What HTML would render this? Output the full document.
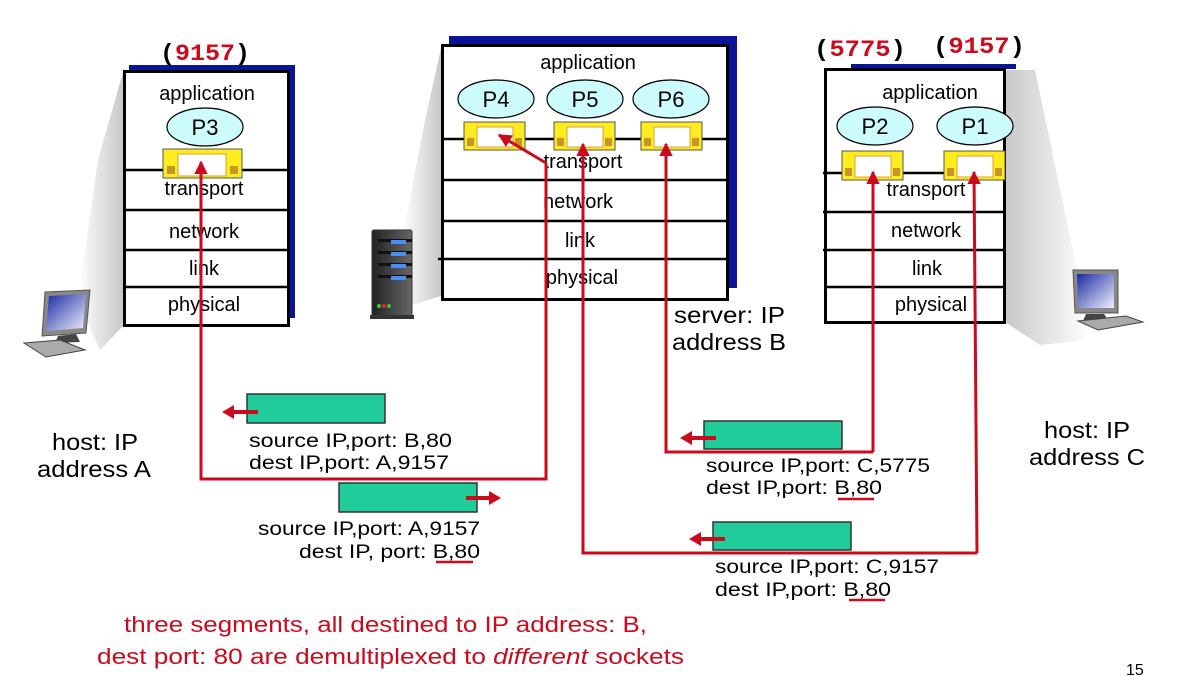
<!DOCTYPE html>
<html><head><meta charset="utf-8"><style>
html,body{margin:0;padding:0;background:#fff;}
svg{display:block;}
text{font-family:"Liberation Sans",sans-serif;}
text.mono{font-family:"Liberation Mono",monospace;}
</style></head><body>
<svg width="1184" height="676" viewBox="0 0 1184 676" xmlns="http://www.w3.org/2000/svg">
<defs>
<linearGradient id="g1" x1="0" x2="1" y1="0" y2="0"><stop offset="0" stop-color="#fff"/><stop offset="1" stop-color="#c8c8c8"/></linearGradient>
<linearGradient id="g2" x1="0" x2="1" y1="0" y2="0"><stop offset="0" stop-color="#c8c8c8"/><stop offset="1" stop-color="#fff"/></linearGradient>
<linearGradient id="scr" x1="0" x2="1" y1="0" y2="1"><stop offset="0" stop-color="#1a2aa0"/><stop offset="1" stop-color="#f0f0ff"/></linearGradient>
<linearGradient id="srv" x1="0" x2="1"><stop offset="0" stop-color="#222"/><stop offset="1" stop-color="#666"/></linearGradient>
<marker id="ah" viewBox="0 0 10 10" refX="9" refY="5" markerWidth="4.5" markerHeight="4.5" orient="auto"><path d="M0,0L10,5L0,10z" fill="#cc0a1e"/></marker>
</defs>
<polygon points="123,72 123,326 100,350 78,300 98,160" fill="url(#g1)"/>
<polygon points="441,48 441,296 412,305 402,240 425,120" fill="url(#g1)"/>
<polygon points="1005,70 1035,70 1075,260 1090,340 1040,345 1005,322" fill="url(#g2)"/>

<text class="mono" x="160" y="60" font-weight="bold" font-size="23" textLength="90" lengthAdjust="spacingAndGlyphs"><tspan fill="#000">(</tspan><tspan fill="#cc0a1e">9157</tspan><tspan fill="#000">)</tspan></text>
<rect x="129" y="65" width="166" height="253" fill="#0a1496"/>
<rect x="124.5" y="71.5" width="164" height="254" fill="#fff" stroke="#000" stroke-width="3"/>
<g stroke="#000" stroke-width="2.5"><line x1="124" y1="170" x2="288" y2="170"/><line x1="124" y1="210" x2="288" y2="210"/><line x1="124" y1="250" x2="288" y2="250"/><line x1="124" y1="287" x2="288" y2="287"/></g>
<g font-size="20" text-anchor="middle"><text x="207" y="100">application</text><text x="204" y="195">transport</text><text x="204" y="238">network</text><text x="204" y="275">link</text><text x="204" y="311">physical</text></g>
<ellipse cx="205" cy="127" rx="38" ry="19" fill="#ccfcfc" stroke="#000" stroke-width="1.2"/><text x="205" y="135" font-size="22" text-anchor="middle">P3</text>

<rect x="449" y="36" width="288" height="252" fill="#0a1496"/>
<rect x="442.5" y="45.5" width="285" height="254" fill="#fff" stroke="#000" stroke-width="3"/>
<g stroke="#000" stroke-width="2.5"><line x1="442" y1="139" x2="727" y2="139"/><line x1="442" y1="180" x2="727" y2="180"/><line x1="442" y1="221" x2="727" y2="221"/><line x1="438" y1="259" x2="727" y2="259"/></g>
<g font-size="20" text-anchor="middle"><text x="588" y="69">application</text><text x="583" y="168">transport</text><text x="578" y="208">network</text><text x="580" y="247">link</text><text x="582" y="284">physical</text></g>
<ellipse cx="496" cy="99" rx="38" ry="19" fill="#ccfcfc" stroke="#000" stroke-width="1.2"/><text x="496" y="107" font-size="22" text-anchor="middle">P4</text>
<ellipse cx="585" cy="99" rx="38" ry="19" fill="#ccfcfc" stroke="#000" stroke-width="1.2"/><text x="585" y="107" font-size="22" text-anchor="middle">P5</text>
<ellipse cx="671" cy="99" rx="38" ry="19" fill="#ccfcfc" stroke="#000" stroke-width="1.2"/><text x="671" y="107" font-size="22" text-anchor="middle">P6</text>

<text class="mono" x="814" y="56" font-weight="bold" font-size="23" textLength="92" lengthAdjust="spacingAndGlyphs"><tspan fill="#000">(</tspan><tspan fill="#cc0a1e">5775</tspan><tspan fill="#000">)</tspan></text>
<text class="mono" x="933" y="53" font-weight="bold" font-size="23" textLength="92" lengthAdjust="spacingAndGlyphs"><tspan fill="#000">(</tspan><tspan fill="#cc0a1e">9157</tspan><tspan fill="#000">)</tspan></text>
<rect x="851" y="64" width="165" height="5" fill="#0a1496"/>
<rect x="825.5" y="69.5" width="179" height="253" fill="#fff" stroke="#000" stroke-width="3"/>
<g stroke="#000" stroke-width="2.5"><line x1="823" y1="173" x2="1004" y2="173"/><line x1="823" y1="212" x2="1004" y2="212"/><line x1="823" y1="250" x2="1004" y2="250"/><line x1="825" y1="287" x2="1004" y2="287"/></g>
<g font-size="20" text-anchor="middle"><text x="930" y="99">application</text><text x="926" y="196">transport</text><text x="926" y="237">network</text><text x="927" y="275">link</text><text x="931" y="311">physical</text></g>
<ellipse cx="875" cy="126" rx="38" ry="19" fill="#ccfcfc" stroke="#000" stroke-width="1.2"/><text x="875" y="134" font-size="22" text-anchor="middle">P2</text>
<ellipse cx="975" cy="126" rx="38" ry="19" fill="#ccfcfc" stroke="#000" stroke-width="1.2"/><text x="975" y="134" font-size="22" text-anchor="middle">P1</text>

<g>
<g transform="translate(163,149)"><rect width="79" height="29" fill="#ffec1e" stroke="#555"/><rect x="15" y="5" width="48" height="22" fill="#fff" stroke="#d8a040"/><rect x="4" y="17" width="8" height="8" fill="#c89628"/><rect x="67" y="17" width="8" height="8" fill="#c89628"/></g>
<g transform="translate(464,122)"><rect width="61" height="28" fill="#ffec1e" stroke="#555"/><rect x="13" y="5" width="36" height="20" fill="#fff" stroke="#d8a040"/><rect x="3" y="16" width="7" height="8" fill="#c89628"/><rect x="51" y="16" width="7" height="8" fill="#c89628"/></g>
<g transform="translate(554,122)"><rect width="61" height="28" fill="#ffec1e" stroke="#555"/><rect x="13" y="5" width="36" height="20" fill="#fff" stroke="#d8a040"/><rect x="3" y="16" width="7" height="8" fill="#c89628"/><rect x="51" y="16" width="7" height="8" fill="#c89628"/></g>
<g transform="translate(641,122)"><rect width="61" height="28" fill="#ffec1e" stroke="#555"/><rect x="13" y="5" width="36" height="20" fill="#fff" stroke="#d8a040"/><rect x="3" y="16" width="7" height="8" fill="#c89628"/><rect x="51" y="16" width="7" height="8" fill="#c89628"/></g>
<g transform="translate(842,151)"><rect width="61" height="29" fill="#ffec1e" stroke="#555"/><rect x="13" y="5" width="36" height="21" fill="#fff" stroke="#d8a040"/><rect x="3" y="17" width="7" height="8" fill="#c89628"/><rect x="51" y="17" width="7" height="8" fill="#c89628"/></g>
<g transform="translate(944,151)"><rect width="61" height="29" fill="#ffec1e" stroke="#555"/><rect x="13" y="5" width="36" height="21" fill="#fff" stroke="#d8a040"/><rect x="3" y="17" width="7" height="8" fill="#c89628"/><rect x="51" y="17" width="7" height="8" fill="#c89628"/></g>
</g>

<g fill="none" stroke="#cc0a1e" stroke-width="3">
<polyline points="546,163 546,479 201,479 201,162" marker-end="url(#ah)"/>
<line x1="546" y1="163" x2="499" y2="135" marker-end="url(#ah)"/>
<polyline points="873,452 666,452 666,144" marker-end="url(#ah)"/>
<line x1="873" y1="452" x2="873" y2="172" marker-end="url(#ah)"/>
<polyline points="977,553 583,553 583,144" marker-end="url(#ah)"/>
<line x1="977" y1="553" x2="974" y2="172" marker-end="url(#ah)"/>
</g>

<g fill="#20cc9a" stroke="#333" stroke-width="1.5">
<rect x="247" y="394" width="138" height="29"/><rect x="339" y="483" width="138" height="29"/>
<rect x="704" y="421" width="138" height="28"/><rect x="713" y="522" width="138" height="28"/>
</g>
<g stroke="#cc0a1e" stroke-width="4" fill="none">
<line x1="258" y1="412" x2="232" y2="412"/><line x1="466" y1="498" x2="490" y2="498"/>
<line x1="716" y1="438" x2="690" y2="438"/><line x1="725" y1="539" x2="699" y2="539"/>
</g>
<g fill="#cc0a1e">
<polygon points="222,412 234,405 234,419"/><polygon points="501,498 489,491 489,505"/>
<polygon points="680,438 692,431 692,445"/><polygon points="689,539 701,532 701,546"/>
</g>
<g font-size="19">
<text x="249" y="447" textLength="203" lengthAdjust="spacingAndGlyphs">source IP,port: B,80</text>
<text x="249" y="469" textLength="200" lengthAdjust="spacingAndGlyphs">dest IP,port: A,9157</text>
<text x="258" y="535" textLength="222" lengthAdjust="spacingAndGlyphs">source IP,port: A,9157</text>
<text x="299" y="558" textLength="181" lengthAdjust="spacingAndGlyphs">dest IP, port: B,80</text>
<text x="706" y="472" textLength="224" lengthAdjust="spacingAndGlyphs">source IP,port: C,5775</text>
<text x="706" y="494" textLength="176" lengthAdjust="spacingAndGlyphs">dest IP,port: B,80</text>
<text x="715" y="573" textLength="224" lengthAdjust="spacingAndGlyphs">source IP,port: C,9157</text>
<text x="715" y="596" textLength="176" lengthAdjust="spacingAndGlyphs">dest IP,port: B,80</text>
</g>
<g stroke="#cc0a1e" stroke-width="2.5"><line x1="436" y1="562" x2="473" y2="562"/><line x1="838" y1="499" x2="874" y2="499"/><line x1="849" y1="600" x2="885" y2="600"/></g>

<g font-size="23" text-anchor="middle">
<text x="95" y="450" textLength="86" lengthAdjust="spacingAndGlyphs">host: IP</text>
<text x="94" y="477" textLength="114" lengthAdjust="spacingAndGlyphs">address A</text>
<text x="1087" y="438" textLength="86" lengthAdjust="spacingAndGlyphs">host: IP</text>
<text x="1087" y="465" textLength="116" lengthAdjust="spacingAndGlyphs">address C</text>
</g>
<g font-size="23"><text x="674" y="323" textLength="111" lengthAdjust="spacingAndGlyphs">server: IP</text><text x="672" y="350" textLength="114" lengthAdjust="spacingAndGlyphs">address B</text></g>
<g font-size="22" fill="#cc0a1e">
<text x="124" y="632" textLength="523" lengthAdjust="spacingAndGlyphs">three segments, all destined to IP address: B,</text>
<text x="97" y="664" textLength="587" lengthAdjust="spacingAndGlyphs">dest port: 80 are demultiplexed to <tspan font-style="italic">different</tspan> sockets</text>
</g>
<text x="1126" y="675" font-size="16">15</text>

<g>
<polygon points="45,292 90,290 86,333 42,336" fill="#888" stroke="#555"/>
<polygon points="49,296 86,294 83,328 46,331" fill="url(#scr)"/>
<polygon points="58,336 76,334 80,342 55,343" fill="#444"/>
<polygon points="24,343 60,340 85,350 46,357" fill="#aaa" stroke="#444"/>
</g>
<g transform="translate(1048,-22)">
<polygon points="25,292 70,292 70,335 27,335" fill="#888" stroke="#555"/>
<polygon points="29,296 66,296 66,330 30,330" fill="url(#scr)"/>
<polygon points="38,336 56,336 60,342 35,343" fill="#444"/>
<polygon points="30,343 78,338 95,344 50,352" fill="#aaa" stroke="#444"/>
</g>
<g>
<rect x="372" y="230" width="40" height="86" rx="2" fill="url(#srv)" stroke="#333"/>
<rect x="378" y="239" width="34" height="3" fill="#111"/><rect x="378" y="251" width="34" height="3" fill="#111"/><rect x="378" y="263" width="34" height="3" fill="#111"/><rect x="378" y="275" width="34" height="3" fill="#111"/>
<rect x="391" y="240" width="15" height="4" fill="#4a8cf0"/><rect x="391" y="252" width="15" height="4" fill="#4a8cf0"/><rect x="391" y="264" width="15" height="4" fill="#4a8cf0"/><rect x="391" y="276" width="15" height="4" fill="#4a8cf0"/>
<circle cx="379" cy="306" r="2" fill="#3c3"/><circle cx="384" cy="306" r="2" fill="#e22"/><circle cx="389" cy="306" r="2" fill="#3c3"/>
<rect x="370" y="315" width="44" height="4" fill="#333"/>
</g>
</svg>
</body></html>
